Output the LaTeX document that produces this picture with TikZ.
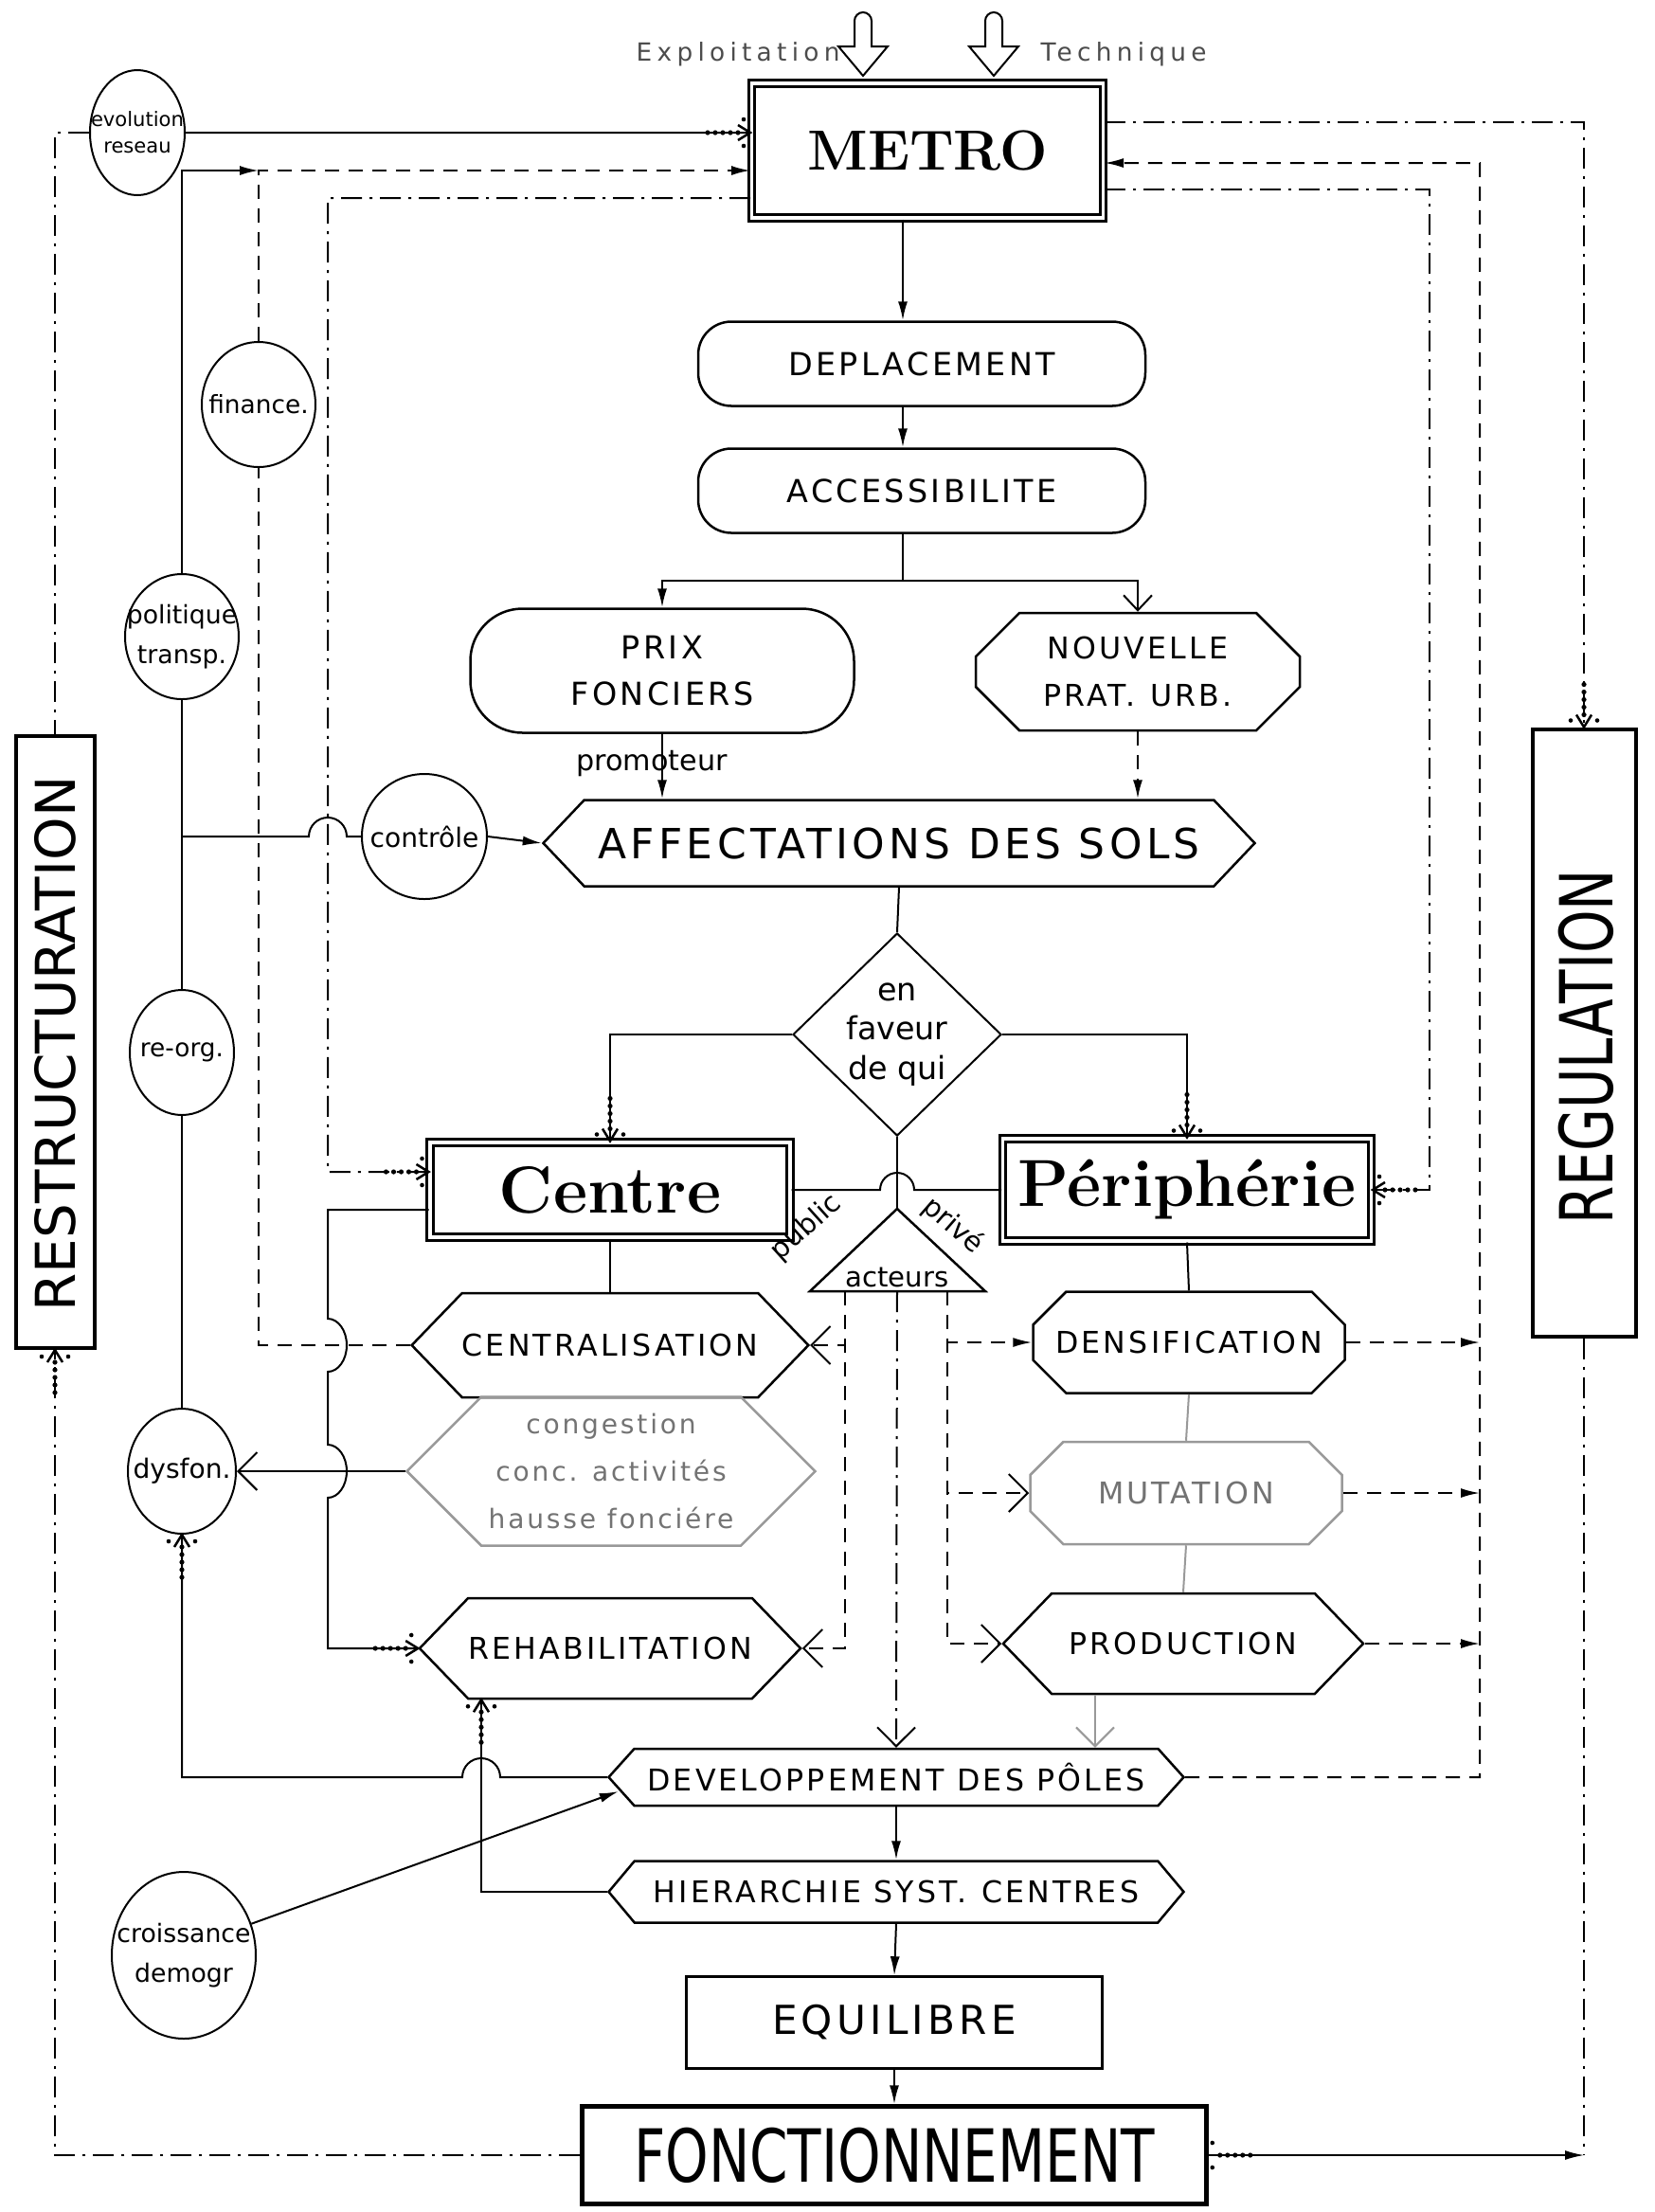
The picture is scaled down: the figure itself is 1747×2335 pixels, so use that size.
\documentclass[tikz,border=0pt]{standalone}
\usepackage{fontspec}
\usepackage{tikz}
\usetikzlibrary{arrows.meta, positioning, shapes.geometric, shapes.misc, shapes.symbols, decorations.markings}

\newfontfamily\dejavu{DejaVu Sans}
\newfontfamily\lettrage[LetterSpace=10]{DejaVu Sans}
\newfontfamily\espace[LetterSpace=20]{DejaVu Sans}
\newfontfamily\etroit[FakeStretch=0.75]{DejaVu Sans}
\newcommand\taille[2]{\fontsize{#1}{#2}\selectfont}

\tikzset{
  creuse/.pic={
    \draw[fill=white, line width=0.2mm] (-9,-24) -- (-9,3) -- (-26,3) -- (0,34)
      -- (26,3) -- (9,3) -- (9,-24) arc[start angle=0, end angle=-180, radius=9] -- cycle;
  },
  renfort/.style={postaction={decorate, decoration={markings, mark=at position 1 with {
    \foreach \d in {13,21,29,37,45} {\fill (-\d,0) circle (2.6);}
    \fill (-7,-14) circle (2.3); \fill (-7,14) circle (2.3);
    \draw[solid, line width=0.25mm] (-13,-8) -- (0,0) -- (-13,8);
  }}}},
  renfortdebut/.style={postaction={decorate, decoration={markings, mark=at position 0 with {
    \foreach \d in {12,20,28,36,44} {\fill (\d,0) circle (2.6);}
    \fill (4,-13) circle (2.3); \fill (4,13) circle (2.3);
  }}}}
}

\begin{document}
\begin{tikzpicture}[x=0.1mm, y=-0.1mm, line width=0.2mm,
  noeud/.style={draw, line width=0.25mm, inner sep=0pt, align=center},
  cadre/.style={draw, double, line width=0.3mm, double distance=0.35mm, inner sep=0pt},
  arrondi/.style={noeud, rounded corners=3.5mm, font=\lettrage\taille{9.5}{14}},
  octo/.style={noeud, chamfered rectangle, chamfered rectangle sep=2.3mm, font=\lettrage\taille{9}{14}},
  hexa/.style={noeud, signal, signal to=east and west, signal pointer angle=92, font=\lettrage\taille{9}{13}},
  bulle/.style={draw, ellipse, inner xsep=-2mm, inner ysep=0pt, minimum height=13.2mm,
                align=center, font=\dejavu\taille{7.5}{10}},
  gris/.style={draw=black!40, text=black!55},
  fleche/.style={-{Latex[length=2mm, width=1mm]}},
  barbe/.style={-{Straight Barb[length=2mm, width=4mm]}},
  tirets/.style={dash pattern=on 1.5mm off 1mm},
  mixte/.style={dash pattern=on 2.2mm off 0.8mm on 0.3mm off 0.8mm},
  fin/.style={line width=0.15mm}
]
\fill[white] (0,0) rectangle (1747,2335);
\useasboundingbox (0,0) rectangle (1747,2335);

% entrees du metro
\node[font=\espace\taille{7.5}{8}, text=black!70, anchor=west] (exploitation) at (659,57) {Exploitation};
\node[font=\espace\taille{7.5}{8}, text=black!70, anchor=west] (technique) at (1086,57) {Technique};
\pic at (911,46) {creuse};
\pic at (1049,46) {creuse};

% colonne centrale
\node[cadre, minimum width=37.1mm, minimum height=14.2mm, font=\rmfamily\bfseries\taille{17}{17}] (metro) at (979,159) {METRO};
\node[arrondi, minimum width=47.2mm, minimum height=8.9mm] (deplacement) at (973,384) {DEPLACEMENT};
\node[arrondi, minimum width=47.2mm, minimum height=8.9mm] (accessibilite) at (973,518) {ACCESSIBILITE};
\node[arrondi, rounded corners=5.5mm, minimum width=40.5mm, minimum height=13.1mm] (prix) at (699,708) {PRIX\\FONCIERS};
\node[octo, minimum width=34.2mm, minimum height=12.4mm] (nouvelle) at (1201,709) {NOUVELLE\\PRAT.\enspace URB.};
\node[font=\dejavu\taille{8.6}{9}] (promoteur) at (688,806) {promoteur};
\node[hexa, minimum width=75.1mm, minimum height=9.1mm, signal pointer angle=93,
      font=\lettrage\taille{12.5}{14}] (affectations) at (949,890) {AFFECTATIONS DES SOLS};
\node[draw, diamond, minimum width=22mm, minimum height=21.4mm, inner sep=-0.4mm, align=center,
      font=\dejavu\taille{9.5}{11.8}] (faveur) at (947,1092) {en\\faveur\\de qui};

\node[cadre, minimum width=38mm, minimum height=10mm, font=\rmfamily\bfseries\taille{20}{20}] (centre) at (644,1256) {Centre};
\node[cadre, minimum width=38.9mm, minimum height=10.8mm, font=\rmfamily\bfseries\taille{20}{20}] (peripherie) at (1253,1256) {Périphérie};

% acteurs
\coordinate (sommet) at (947,1276);
\draw[line width=0.25mm] (sommet) -- (855,1363) -- (1040,1363) -- cycle;
\node[anchor=base, font=\dejavu\taille{8.3}{9}] (acteurs) at (947,1358) {acteurs};
\node[rotate=42, font=\dejavu\taille{8.3}{9}] (public) at (851,1296) {public};
\node[rotate=-41, font=\dejavu\taille{8.3}{9}] (prive) at (1006,1294) {privé};
\coordinate (baseG) at (892,1363);
\coordinate (baseM) at (947,1363);
\coordinate (baseD) at (1000,1363);

\node[hexa, minimum width=37.7mm, minimum height=11mm] (centralisation) at (644,1420) {CENTRALISATION};
\node[hexa, gris, minimum width=43.1mm, minimum height=15.7mm, signal pointer angle=90,
      font=\lettrage\taille{8}{14.2}] (congestion) at (645,1553) {congestion\\conc. activités\\hausse fonciére};
\node[hexa, minimum width=37.6mm, minimum height=10.6mm] (rehabilitation) at (644,1740) {REHABILITATION};

\node[octo, minimum width=32.9mm, minimum height=10.7mm] (densification) at (1255,1417) {DENSIFICATION};
\node[octo, gris, minimum width=32.9mm, minimum height=10.8mm] (mutation) at (1252,1576) {MUTATION};
\node[hexa, minimum width=38mm, minimum height=10.6mm] (production) at (1249,1735) {PRODUCTION};

\node[hexa, minimum width=60.7mm, minimum height=6mm, signal pointer angle=96] (developpement) at (946,1876) {DEVELOPPEMENT DES PÔLES};
\node[hexa, minimum width=60.7mm, minimum height=6.5mm, signal pointer angle=100] (hierarchie) at (946,1997) {HIERARCHIE SYST.\enspace CENTRES};
\node[noeud, minimum width=43.9mm, minimum height=9.7mm, font=\lettrage\taille{12}{12}] (equilibre) at (944,2135) {EQUILIBRE};
\node[noeud, line width=0.45mm, minimum width=65.9mm, minimum height=10.3mm, font=\etroit\taille{22}{22}] (fonctionnement) at (944,2275) {FONCTIONNEMENT};

% cadres lateraux
\node[noeud, line width=0.4mm, minimum width=8.3mm, minimum height=64.6mm] (restructuration) at (58,1100) {};
\node[rotate=90, font=\dejavu\taille{16.5}{16.5}] (restructuration texte) at (58,1102) {RESTRUCTURATION};
\node[noeud, line width=0.4mm, minimum width=10.9mm, minimum height=64.1mm] (regulation) at (1672,1090) {};
\node[rotate=90, font=\etroit\taille{22}{22}] (regulation texte) at (1674,1105) {REGULATION};

% bulles
\node[bulle, minimum width=10mm, font=\dejavu\taille{6}{8}] (evolution) at (145,140) {evolution\\reseau};
\node[bulle, minimum width=12mm] (finance) at (273,427) {finance.};
\node[bulle, minimum width=12mm, font=\dejavu\taille{7.6}{12}] (politique) at (192,672) {politique\\transp.};
\node[bulle, minimum width=13.2mm, font=\dejavu\taille{8}{10}] (controle) at (448,883) {contrôle};
\node[bulle, minimum width=11mm] (reorg) at (192,1111) {re-org.};
\node[bulle, minimum width=11.4mm, font=\dejavu\taille{8}{10}] (dysfon) at (192,1553) {dysfon.};
\node[bulle, minimum width=15.2mm, minimum height=17.6mm, font=\dejavu\taille{7.6}{12}] (croissance) at (194,2064) {croissance\\demogr};

% axe principal
\draw[fleche] (metro.south -| 953,0) -- (deplacement.north -| 953,0);
\draw[fleche] (deplacement.south -| 953,0) -- (accessibilite.north -| 953,0);
\draw (accessibilite.south -| 953,0) -- (953,613) coordinate (branche);
\draw[fleche] (branche) -| (prix.north);
\draw[-{Straight Barb[length=1.6mm, width=3mm]}] (branche) -| (nouvelle.north);
\draw[fleche] (prix.south) -- (affectations.north -| prix.south);
\draw[fleche, tirets] (nouvelle.south) -- (affectations.north -| nouvelle.south);
\draw[fleche] (controle.east) -- (affectations.west);
\draw (affectations.south) -- (faveur.north);
\draw[renfort] (faveur.west) -| (centre.north);
\draw[renfort] (faveur.east) -| (peripherie.north);
\draw (faveur.south) -- (sommet);
\draw (centre.east) -- (929,1256) arc[start angle=180, end angle=360, radius=18] -- (peripherie.west);

% acteurs vers les actions
\draw[barbe, tirets] (baseG) |- (centralisation.east);
\draw[barbe, tirets] (baseG) |- (rehabilitation.east);
\draw[barbe, mixte] (baseM) -- (developpement.north);
\draw[fleche, tirets] (baseD) |- (densification.west);
\draw[barbe, tirets] (baseD) |- (mutation.west);
\draw[barbe, tirets] (baseD) |- (production.west);

\draw (centre.south) -- (centralisation.north);
\draw (peripherie.south) -- (densification.north);
\draw[gris] (densification.south) -- (mutation.north);
\draw[gris] (mutation.south) -- (production.north);
\draw[barbe, gris] (1156,0 |- production.south) -- (1156,0 |- developpement.north);

% retours a droite
\draw[fleche, tirets] (densification.east) -- (densification.east -| 1562,0);
\draw[fleche, tirets] (mutation.east) -- (mutation.east -| 1562,0);
\draw[fleche, tirets] (production.east) -- (production.east -| 1562,0);
\draw[fleche, tirets] (developpement.east) -| (1562,172) -- ([yshift=-1.3mm]metro.east);
\draw[renfort, mixte] ([yshift=-4.1mm]metro.east) -| (1509,1256) -- (peripherie.east);
\draw[renfort, mixte, fin] ([yshift=3mm]metro.east) -| (regulation.north);
\draw[mixte, fin] (regulation.south) -- (regulation.south |- fonctionnement.east);
\draw[fleche, renfortdebut, fin] (fonctionnement.east) -- (regulation.south |- fonctionnement.east);

% bas de la colonne
\draw[fleche] (developpement.south) -- (hierarchie.north);
\draw[fleche] (hierarchie.south) -- (equilibre.north);
\draw[fleche] (equilibre.south) -- (fonctionnement.north);
\draw[fleche] (croissance.25) -- ([xshift=1.2mm, yshift=-1.5mm]developpement.west);

% retours a gauche
\draw[renfort] (hierarchie.west) -| (508,0 |- rehabilitation.south);
\draw[renfort] (developpement.west) -- (528,1876) arc[start angle=0, end angle=-180, radius=20]
  -- (dysfon.south |- 0,1876) -- (dysfon.south);
\draw[barbe] (congestion.west) -- (dysfon.east);
\draw[renfort] ([yshift=-2.1mm]centre.west) -- (346,1277) -- (346,1392)
  arc[start angle=-90, end angle=90, x radius=20, y radius=28] -- (346,1525)
  arc[start angle=-90, end angle=90, x radius=20, y radius=28] -- (346,1740) -- (rehabilitation.west);
\draw[renfort, mixte] ([yshift=-5mm]metro.west) -| (346,1237) -- ([yshift=1.9mm]centre.west);
\draw (politique.south) -- (reorg.north);
\draw (reorg.south) -- (dysfon.north);
\draw[fleche] (politique.north) |- (finance.north |- 0,180);
\draw[fleche, tirets] (finance.north) |- ([yshift=-2.1mm]metro.west);
\draw[tirets] (centralisation.west) -| (finance.south);
\draw (politique.south |- controle.west) -- (326,883) arc[start angle=180, end angle=360, radius=20] -- (controle.west);
\draw[renfort] (evolution.east) -- ([yshift=1.9mm]metro.west);
\draw[mixte, fin] (evolution.west) -| (restructuration.north);
\draw[renfort, mixte, fin] (fonctionnement.west) -| (restructuration.south);
\end{tikzpicture}
\end{document}
